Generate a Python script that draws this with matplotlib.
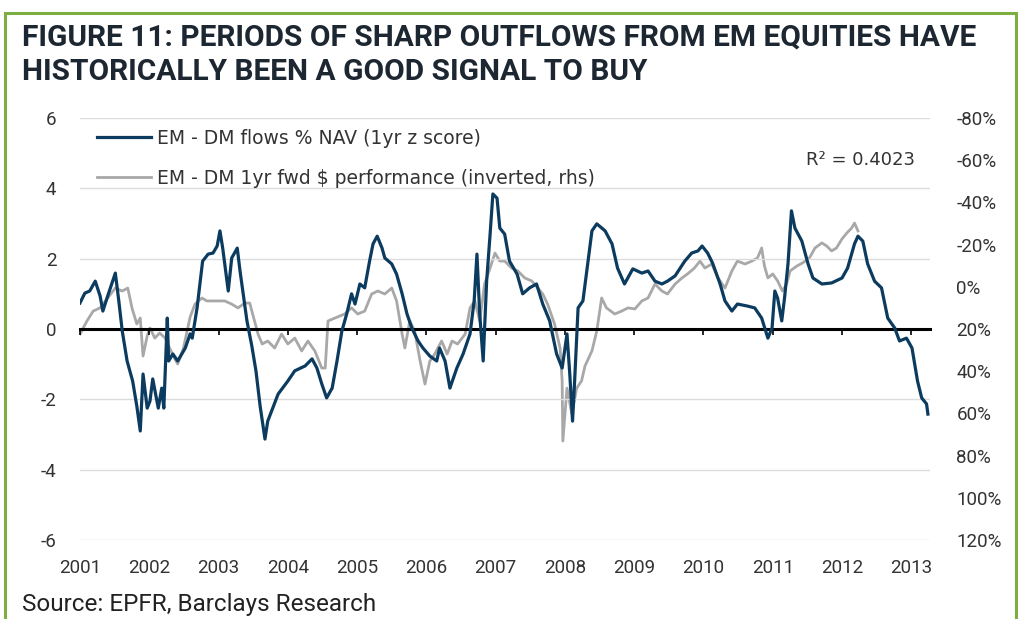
import matplotlib
matplotlib.use("Agg")
import matplotlib.pyplot as plt
from matplotlib.patches import Rectangle
from matplotlib.lines import Line2D

plt.rcParams["axes.unicode_minus"] = False

# EM - DM flows % NAV (1yr z score), left axis
flows_t = [2001.00, 2001.07, 2001.14, 2001.22, 2001.29, 2001.33, 2001.40, 2001.51, 2001.56, 2001.61,
           2001.68, 2001.76, 2001.82, 2001.87, 2001.91, 2001.97, 2002.01, 2002.05, 2002.13, 2002.18,
           2002.21, 2002.26, 2002.28, 2002.34, 2002.41, 2002.52, 2002.59, 2002.62, 2002.69, 2002.77,
           2002.85, 2002.92, 2002.98, 2003.02, 2003.06, 2003.14, 2003.19, 2003.27, 2003.31, 2003.35,
           2003.41, 2003.48, 2003.54, 2003.60, 2003.67, 2003.71, 2003.86, 2004.00, 2004.10, 2004.25,
           2004.35, 2004.42, 2004.49, 2004.56, 2004.64, 2004.71, 2004.78, 2004.85, 2004.92, 2004.97,
           2005.04, 2005.11, 2005.18, 2005.23, 2005.29, 2005.36, 2005.40, 2005.50, 2005.57, 2005.65,
           2005.72, 2005.79, 2005.88, 2005.95, 2006.05, 2006.15, 2006.19, 2006.27, 2006.34, 2006.44,
           2006.53, 2006.63, 2006.69, 2006.73, 2006.77, 2006.82, 2006.87, 2006.92, 2006.96, 2007.02,
           2007.06, 2007.13, 2007.20, 2007.31, 2007.39, 2007.49, 2007.59, 2007.68, 2007.78, 2007.88,
           2007.96, 2008.03, 2008.07, 2008.11, 2008.14, 2008.19, 2008.26, 2008.32, 2008.39, 2008.46,
           2008.58, 2008.68, 2008.76, 2008.86, 2008.98, 2009.11, 2009.20, 2009.30, 2009.40, 2009.48,
           2009.59, 2009.73, 2009.83, 2009.92, 2009.98, 2010.06, 2010.13, 2010.24, 2010.31, 2010.41,
           2010.49, 2010.64, 2010.74, 2010.84, 2010.93, 2010.99, 2011.03, 2011.07, 2011.13, 2011.17,
           2011.22, 2011.27, 2011.32, 2011.42, 2011.51, 2011.58, 2011.71, 2011.85, 2012.00, 2012.08,
           2012.18, 2012.23, 2012.30, 2012.37, 2012.47, 2012.57, 2012.66, 2012.76, 2012.83, 2012.93,
           2013.01, 2013.09, 2013.15, 2013.22, 2013.24]
flows_z = [0.74, 1.02, 1.08, 1.36, 0.94, 0.51, 0.94, 1.59, 0.80, -0.06,
           -0.91, -1.48, -2.19, -2.90, -1.28, -2.25, -2.05, -1.42, -2.25, -1.68,
           -2.25, 0.31, -0.91, -0.71, -0.91, -0.54, -0.14, -0.26, 0.60, 1.93,
           2.13, 2.16, 2.36, 2.79, 2.30, 1.08, 2.02, 2.30, 1.65, 1.08,
           0.23, -0.48, -1.19, -2.19, -3.13, -2.62, -1.85, -1.48, -1.19, -1.05,
           -0.85, -1.11, -1.56, -1.96, -1.68, -0.91, -0.06, 0.43, 1.00, 0.71,
           1.28, 1.17, 1.93, 2.42, 2.64, 2.30, 2.02, 1.85, 1.56, 1.00,
           0.43, 0.03, -0.34, -0.54, -0.77, -0.91, -0.54, -0.91, -1.68, -1.11,
           -0.71, -0.14, 0.80, 2.13, 0.43, -0.91, 1.36, 2.70, 3.84, 3.72,
           2.87, 2.70, 1.93, 1.56, 1.00, 1.17, 1.28, 0.71, 0.23, -0.71,
           -1.11, -0.14, -1.28, -2.62, -1.48, 0.60, 0.80, 1.73, 2.79, 2.99,
           2.79, 2.42, 1.73, 1.28, 1.71, 1.59, 1.65, 1.36, 1.28, 1.36,
           1.51, 1.93, 2.16, 2.22, 2.36, 2.16, 1.88, 1.28, 0.80, 0.51,
           0.71, 0.65, 0.60, 0.31, -0.26, 0.03, 1.08, 0.88, 0.23, 0.88,
           1.85, 3.36, 2.87, 2.50, 1.85, 1.45, 1.28, 1.31, 1.45, 1.73,
           2.42, 2.64, 2.50, 1.85, 1.36, 1.17, 0.31, 0.03, -0.34, -0.26,
           -0.54, -1.48, -1.96, -2.13, -2.42]

# EM - DM 1yr fwd $ performance (%), plotted inverted on the right axis
perf_t = [2001.00, 2001.10, 2001.19, 2001.29, 2001.40, 2001.51, 2001.61, 2001.69, 2001.75, 2001.82,
          2001.87, 2001.91, 2001.97, 2002.01, 2002.08, 2002.15, 2002.23, 2002.30, 2002.37, 2002.41,
          2002.49, 2002.59, 2002.66, 2002.76, 2002.83, 2002.90, 2002.99, 2003.09, 2003.19, 2003.28,
          2003.38, 2003.45, 2003.50, 2003.57, 2003.63, 2003.71, 2003.81, 2003.91, 2004.00, 2004.10,
          2004.20, 2004.29, 2004.39, 2004.49, 2004.54, 2004.58, 2004.68, 2004.82, 2004.92, 2005.01,
          2005.11, 2005.21, 2005.30, 2005.40, 2005.50, 2005.57, 2005.65, 2005.69, 2005.76, 2005.83,
          2005.91, 2005.98, 2006.05, 2006.12, 2006.22, 2006.30, 2006.37, 2006.45, 2006.56, 2006.63,
          2006.70, 2006.77, 2006.84, 2006.92, 2006.99, 2007.06, 2007.13, 2007.23, 2007.32, 2007.42,
          2007.52, 2007.61, 2007.68, 2007.75, 2007.85, 2007.93, 2007.96, 2007.97, 2008.03, 2008.10,
          2008.17, 2008.24, 2008.29, 2008.39, 2008.46, 2008.53, 2008.60, 2008.72, 2008.82, 2008.91,
          2009.01, 2009.11, 2009.20, 2009.30, 2009.40, 2009.48, 2009.59, 2009.69, 2009.77, 2009.87,
          2009.95, 2010.02, 2010.12, 2010.21, 2010.31, 2010.41, 2010.49, 2010.60, 2010.70, 2010.78,
          2010.84, 2010.88, 2010.93, 2011.00, 2011.07, 2011.14, 2011.20, 2011.25, 2011.35, 2011.43,
          2011.53, 2011.61, 2011.71, 2011.78, 2011.85, 2011.92, 2012.00, 2012.07, 2012.14, 2012.18,
          2012.23]
perf_pct = [22.4, 16.2, 11.5, 10.0, 5.3, 0.6, 2.0, 0.6, 10.0, 17.6,
            14.8, 32.8, 23.3, 19.5, 24.3, 21.9, 24.3, 29.5, 34.2, 36.6,
            29.5, 14.3, 8.2, 5.3, 6.7, 6.7, 6.7, 6.7, 8.2, 10.0,
            7.7, 7.7, 13.8, 22.4, 27.1, 25.7, 29.0, 22.4, 27.1, 24.3,
            30.4, 25.7, 30.4, 38.5, 38.5, 16.2, 14.8, 12.9, 10.0, 12.9,
            11.5, 3.4, 2.0, 3.4, 0.6, 6.7, 22.4, 29.0, 16.2, 20.9,
            35.2, 46.1, 35.2, 31.9, 25.7, 31.9, 25.7, 27.1, 22.4, 10.0,
            6.7, 16.2, -1.3, -8.9, -16.0, -12.2, -12.2, -8.9, -7.5, -4.2,
            -2.8, 0.6, 3.4, 8.2, 17.6, 29.0, 44.6, 73.1, 48.0, 60.3,
            48.0, 44.6, 37.5, 30.4, 20.9, 5.3, 10.0, 12.9, 11.5, 10.0,
            10.5, 6.7, 5.3, -1.3, 2.0, 3.4, -1.3, -4.2, -6.1, -8.9,
            -12.2, -8.9, -10.8, -4.2, 0.6, -7.5, -12.2, -10.8, -12.2, -13.7,
            -18.4, -9.9, -4.2, -6.1, -2.8, 2.0, -1.3, -7.5, -9.9, -11.3,
            -13.7, -18.4, -20.8, -19.3, -17.0, -18.4, -22.7, -25.5, -27.9, -30.2,
            -26.5]

years = list(range(2001, 2014))
left_ticks = [-6, -4, -2, 0, 2, 4, 6]
right_ticks = [-80, -60, -40, -20, 0, 20, 40, 60, 80, 100, 120]

navy = "#0c3b60"
grey = "#a8a8a8"
narrow = ["Roboto", "DejaVu Sans"]
body = ["DejaVu Sans"]

fig = plt.figure(figsize=(10.19, 6.19), dpi=100)
fig.patch.set_facecolor("white")

# green frame
fig.patches.append(Rectangle((5 / 1019, -0.05), 1011 / 1019, 1.05 - 13 / 619,
                             transform=fig.transFigure, fill=False,
                             edgecolor="#7cae41", linewidth=2.2))

fig.text(22 / 1019, 1 - 38 / 619, "FIGURE 11: PERIODS OF SHARP OUTFLOWS FROM EM EQUITIES HAVE",
         family=narrow, weight="bold", fontsize=21.5, color="#1d2732", va="center")
fig.text(22 / 1019, 1 - 72 / 619, "HISTORICALLY BEEN A GOOD SIGNAL TO BUY",
         family=narrow, weight="bold", fontsize=21.5, color="#1d2732", va="center")
fig.text(22 / 1019, 1 - 604 / 619, "Source: EPFR, Barclays Research",
         family=narrow, fontsize=17.5, color="#222222", va="center")

ax = fig.add_axes([80 / 1019, 1 - 540 / 619, 850 / 1019, 422 / 619])
ax.set_xlim(2001, 2013.27)
ax.set_ylim(-6, 6)
ax.set_yticks(left_ticks)
for v in left_ticks:
    if v != 0:
        ax.axhline(v, color="#dcdcdc", lw=1.0, zorder=0)

for s in ["top", "left", "right"]:
    ax.spines[s].set_visible(False)
ax.spines["bottom"].set_position(("data", 0))
ax.spines["bottom"].set_linewidth(2.2)
ax.spines["bottom"].set_zorder(1)
ax.set_xticks(years)
ax.tick_params(axis="x", direction="out", length=4, width=1.2, labelbottom=False)
ax.tick_params(axis="y", length=0, pad=17, labelsize=13.5, labelcolor="#333333")
for lab in ax.get_yticklabels():
    lab.set_family(narrow)

sec = ax.secondary_xaxis(0.0)
sec.set_xticks(years)
sec.set_xticklabels([str(y) for y in years])
sec.spines["bottom"].set_visible(False)
sec.tick_params(length=0, pad=14, labelsize=13.5, labelcolor="#333333")
for lab in sec.get_xticklabels():
    lab.set_family(narrow)

ax2 = ax.twinx()
ax2.set_ylim(120, -80)
ax2.set_yticks(right_ticks)
ax2.set_yticklabels([f"{v}%" for v in right_ticks])
for s in ["top", "left", "right", "bottom"]:
    ax2.spines[s].set_visible(False)
ax2.tick_params(axis="y", length=0, pad=19, labelsize=13.5, labelcolor="#333333")
for lab in ax2.get_yticklabels():
    lab.set_family(narrow)

ax2.plot(perf_t, perf_pct, color=grey, lw=2.0, zorder=2)
ax.set_zorder(ax2.get_zorder() + 1)
ax.patch.set_visible(False)
ax.plot(flows_t, flows_z, color=navy, lw=2.3, zorder=3)

handles = [Line2D([], [], color=navy, lw=2.3), Line2D([], [], color=grey, lw=2.0)]
ax.legend(handles, ["EM - DM flows % NAV (1yr z score)",
                    "EM - DM 1yr fwd $ performance (inverted, rhs)"],
          loc="upper left", bbox_to_anchor=(0.0, 1.015), frameon=False,
          prop={"family": body, "size": 13.5}, handlelength=2.9, handletextpad=0.3,
          labelspacing=1.12, labelcolor="#333333")
ax.text(0.982, 0.90, "R² = 0.4023", transform=ax.transAxes, ha="right", va="center",
        family=body, fontsize=13, color="#333333")

fig.savefig("out.png", dpi=100, facecolor="white")
